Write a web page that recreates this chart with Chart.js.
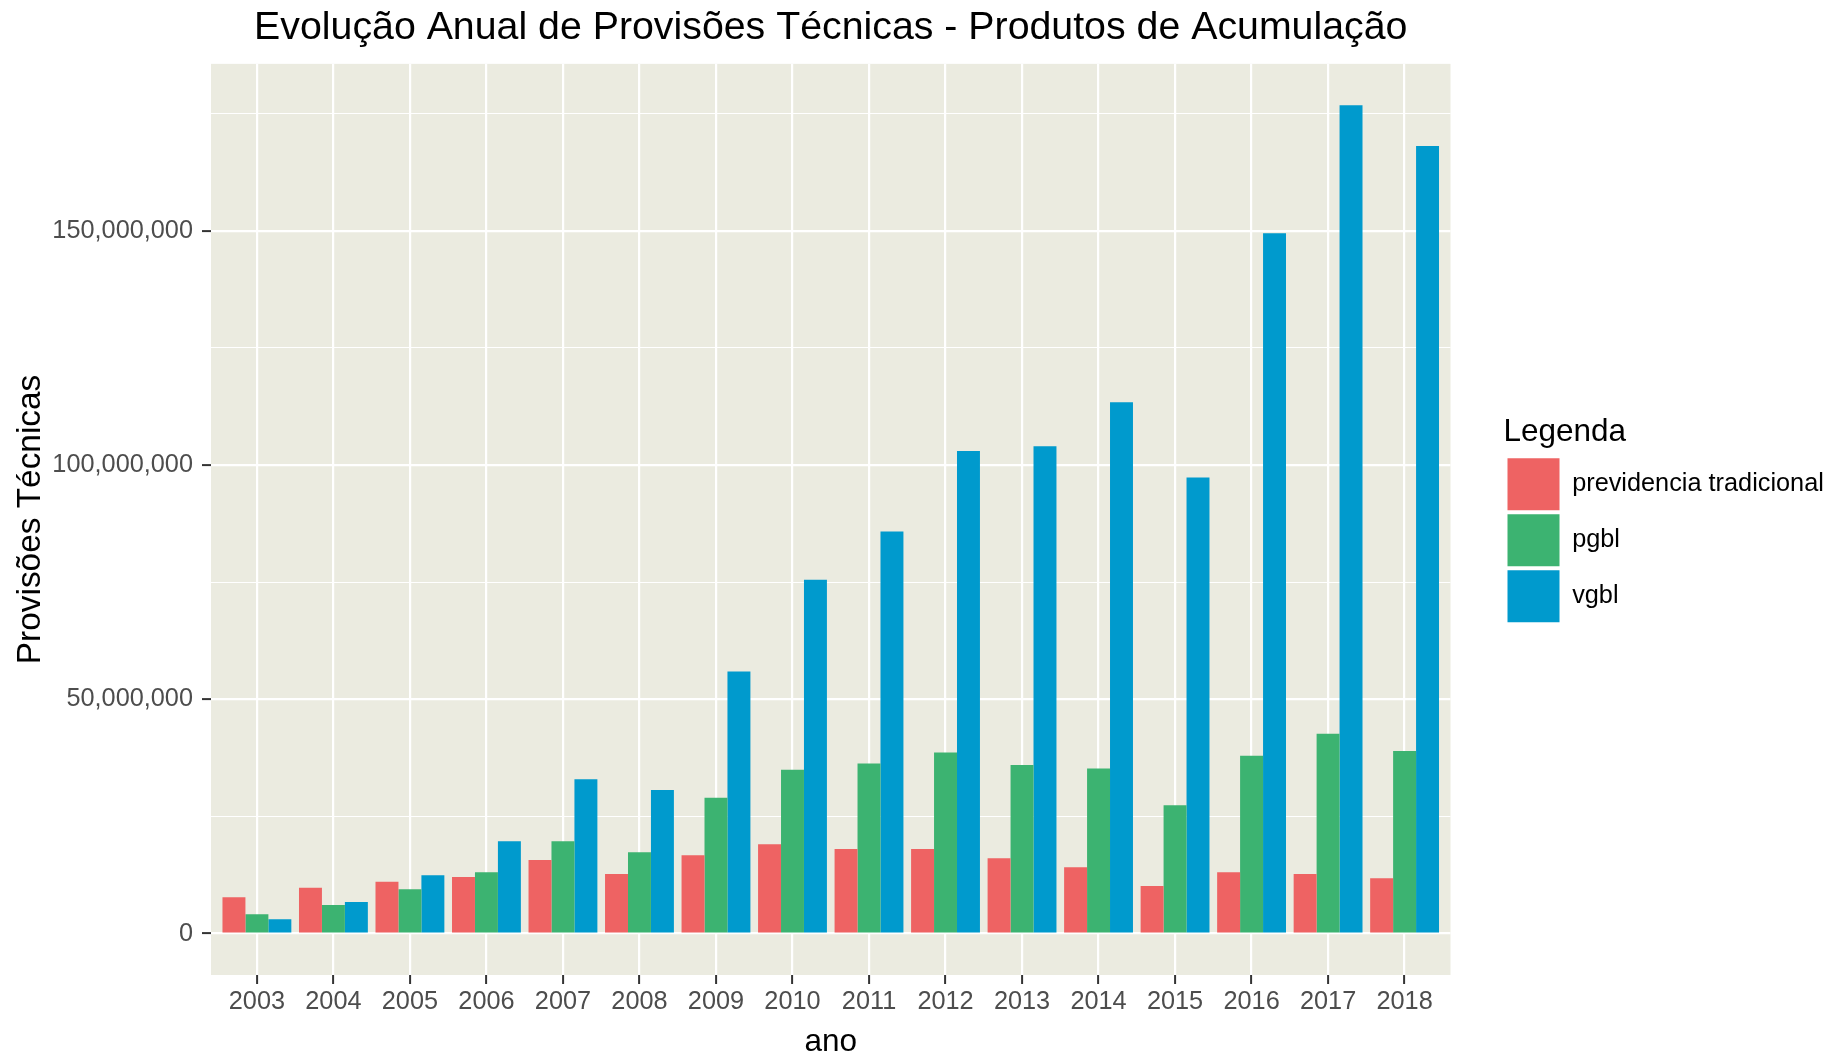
<!DOCTYPE html>
<html>
<head>
<meta charset="utf-8">
<script src="https://cdn.jsdelivr.net/npm/chart.js@4/dist/chart.umd.min.js"></script>
<style>
  body { margin: 0; background: #fff; }
  #wrap { width: 1829px; height: 1055px; }
</style>
</head>
<body>
<div id="wrap"><canvas id="chart"></canvas></div>
<script>
// values in reais (millions)
const anos = ['2003','2004','2005','2006','2007','2008','2009','2010','2011','2012','2013','2014','2015','2016','2017','2018'];
const tradicional = [7.74, 9.8, 11.07, 12.08, 15.7, 12.72, 16.7, 19.05, 18.05, 18.05, 16.06, 14.15, 10.16, 13.08, 12.72, 11.8];
const pgbl = [4.12, 6.1, 9.45, 13.08, 19.69, 17.35, 29.0, 34.97, 36.33, 38.65, 35.97, 35.26, 27.37, 37.96, 42.65, 38.96];
const vgbl = [3.05, 6.74, 12.44, 19.69, 32.92, 30.64, 55.96, 75.5, 85.83, 103.0, 104.0, 113.4, 97.35, 149.5, 176.8, 168.1];
const yTicks = [0, 25, 50, 75, 100, 125, 150, 175];

const FONT = '"Liberation Sans", Arial, sans-serif';
const toPoints = arr => arr.map((v, i) => ({ x: i + 1, y: v * 1e6 }));

// ggplot-ish grey panel behind the plot area
const panelBg = {
  id: 'panelBg',
  beforeDraw(chart) {
    const a = chart.chartArea, ctx = chart.ctx;
    ctx.save();
    ctx.fillStyle = '#ebebe0';
    ctx.fillRect(a.left, a.top, a.right - a.left, a.bottom - a.top);
    ctx.restore();
  }
};

// legend: fixed width, pushed away from the panel
const legendPlace = {
  id: 'legendPlace',
  beforeInit(chart) {
    const lg = chart.legend;
    const fit = lg.fit;
    lg.fit = function () { fit.call(this); this.width = 378.5; };
  },
  afterLayout(chart) {
    const lg = chart.legend;
    lg.left = chart.chartArea.right + 53;
    lg.right = lg.left + lg.width;
  }
};

const chart = new Chart(document.getElementById('chart'), {
  type: 'bar',
  data: {
    datasets: [
      { label: 'previdencia tradicional', data: toPoints(tradicional), backgroundColor: '#EE6363' },
      { label: 'pgbl', data: toPoints(pgbl), backgroundColor: '#3CB371' },
      { label: 'vgbl', data: toPoints(vgbl), backgroundColor: '#009ACD' }
    ]
  },
  plugins: [panelBg, legendPlace],
  options: {
    responsive: true,
    maintainAspectRatio: false,
    animation: false,
    layout: { padding: 0 },
    datasets: { bar: { categoryPercentage: 0.9, barPercentage: 1, borderWidth: 0 } },
    scales: {
      x: {
        type: 'linear',
        min: 0.4,
        max: 16.6,
        offset: false,
        afterFit: s => { s.height = 80; },
        afterBuildTicks: s => { s.ticks = anos.map((_, i) => ({ value: i + 1 })); },
        ticks: {
          autoSkip: false,
          maxRotation: 0,
          padding: 3,
          color: '#4D4D4D',
          font: { family: FONT, size: 25.3 },
          callback: v => anos[v - 1]
        },
        grid: { offset: false, color: '#ffffff', lineWidth: 2.2, tickColor: '#333333', tickLength: 9, tickWidth: 2 },
        border: { display: false },
        title: { display: true, text: 'ano', color: '#000', padding: 0, font: { family: FONT, size: 31.5, lineHeight: 0.8 } }
      },
      y: {
        min: -8.84e6,
        max: 185.64e6,
        afterFit: s => { s.width = 211; },
        afterBuildTicks: s => { s.ticks = yTicks.map(v => ({ value: v * 1e6 })); },
        ticks: {
          padding: 9,
          color: '#4D4D4D',
          font: { family: FONT, size: 25.3 },
          callback: v => (v % 50e6 === 0 ? v.toLocaleString('en-US') : '')
        },
        grid: {
          color: '#ffffff',
          lineWidth: c => (c.tick && c.tick.value % 50e6 === 0 ? 2.2 : 1.1),
          tickColor: c => (c.tick && c.tick.value % 50e6 === 0 ? '#333333' : 'rgba(0,0,0,0)'),
          tickLength: 9,
          tickWidth: 2
        },
        border: { display: false },
        title: { display: true, text: 'Provisões Técnicas', color: '#000', padding: { top: 10.5, bottom: 0 }, font: { family: FONT, size: 33.4 } }
      }
    },
    plugins: {
      title: {
        display: true,
        fullSize: false,
        text: 'Evolução Anual de Provisões Técnicas - Produtos de Acumulação',
        color: '#000',
        padding: { top: 5, bottom: 11.7 },
        font: { family: FONT, size: 39.3, weight: 'normal' }
      },
      legend: {
        position: 'right',
        fullSize: false,
        align: 'center',
        title: {
          display: true,
          text: 'Legenda',
          position: 'start',
          color: '#000',
          padding: { top: 4, bottom: 0 },
          font: { family: FONT, size: 31.5 }
        },
        labels: {
          boxWidth: 52,
          boxHeight: 52,
          padding: 4,
          color: '#000',
          font: { family: FONT, size: 25.3 }
        }
      },
      tooltip: { enabled: false }
    }
  }
});
</script>
</body>
</html>
